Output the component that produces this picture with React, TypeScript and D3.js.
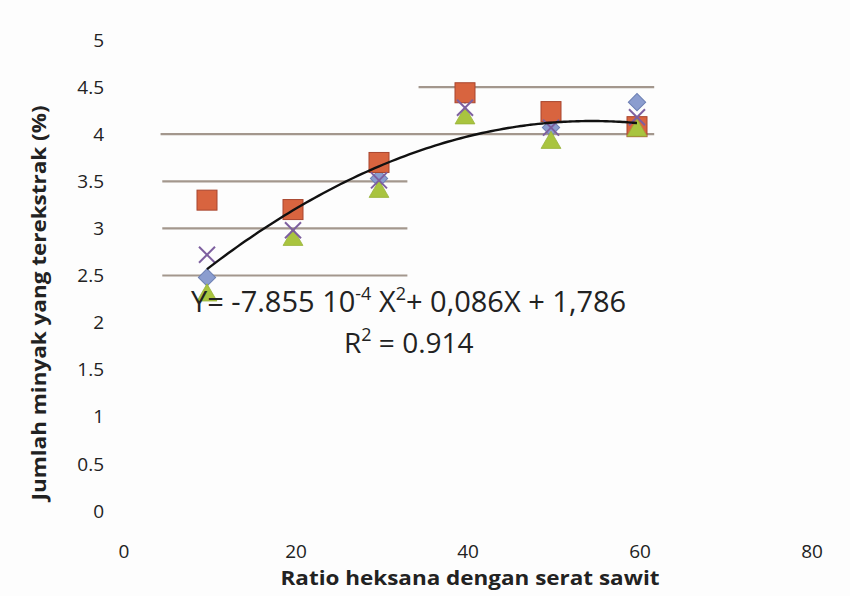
import React from "react";
import * as d3 from "d3";

const ratios = [10, 20, 30, 40, 50, 60];
const diamondVals = [2.48, 3.2, 3.53, 4.42, 4.07, 4.34];
const squareVals = [3.3, 3.2, 3.7, 4.44, 4.24, 4.08];
const triangleVals = [2.29, 2.88, 3.39, 4.17, 3.91, 4.04];
const crossVals = [2.72, 2.98, 3.51, 4.28, 4.07, 4.18];
const yTicks = [0, 0.5, 1, 1.5, 2, 2.5, 3, 3.5, 4, 4.5, 5];
const yTickLabels = ["0", "0.5", "1", "1.5", "2", "2.5", "3", "3.5", "4", "4.5", "5"];
const xTicks = [0, 20, 40, 60, 80];
const trendCoef = [-7.855e-4, 0.086, 1.786];
// partial gridlines visible in the scan: [value, xStart, xEnd] in data units
const gridSegments: [number, number, number][] = [
  [4.5, 34.6, 62],
  [4, 4.6, 62],
  [3.5, 4.8, 33.3],
  [3, 4.8, 33.3],
  [2.5, 4.8, 33.3],
];

const W = 850;
const H = 596;
const FONT = "'Open Sans', 'Noto Sans', sans-serif";

export default function App() {
  const x = d3.scaleLinear().domain([0, 80]).range([121, 809]);
  const y = d3.scaleLinear().domain([0, 5]).range([511, 40]);

  const curvePts: [number, number][] = [];
  for (let i = 0; i <= 100; i++) {
    const xv = 10 + (50 * i) / 100;
    const yv = trendCoef[0] * xv * xv + trendCoef[1] * xv + trendCoef[2];
    curvePts.push([x(xv), y(yv)]);
  }
  const line = d3.line<[number, number]>().curve(d3.curveBasis);

  const diamond = d3.symbol().type(d3.symbolSquare).size(150)();
  const tri = d3.symbol().type(d3.symbolTriangle).size(170)();

  return (
    <svg
      width={W}
      height={H}
      style={{ position: "absolute", left: 0, top: 0, background: "#fff" }}
      fontFamily={FONT}
    >
      <rect width={W} height={H} fill="#fdfdfd" />
      {gridSegments.map(([v, a, b], i) => (
        <line
          key={i}
          x1={x(a)}
          x2={x(b)}
          y1={y(v)}
          y2={y(v)}
          stroke="#a3978d"
          strokeWidth={2.2}
        />
      ))}
      {yTicks.map((t, i) => (
        <text
          key={t}
          x={104}
          y={y(t)}
          dy="0.35em"
          textAnchor="end"
          fontSize={19}
          fill="#222"
        >
          {yTickLabels[i]}
        </text>
      ))}
      {xTicks.map((t) => (
        <text key={t} x={x(t) + 3} y={558} textAnchor="middle" fontSize={19} fill="#222">
          {t}
        </text>
      ))}
      <text
        x={470}
        y={585}
        textAnchor="middle"
        fontSize={20}
        fontWeight="bold"
        fill="#222"
        textLength={379}
        lengthAdjust="spacingAndGlyphs"
      >
        Ratio heksana dengan serat sawit
      </text>
      <text
        transform={`translate(46,303) rotate(-90)`}
        textAnchor="middle"
        fontSize={19}
        fontWeight="bold"
        fill="#222"
        textLength={395}
        lengthAdjust="spacingAndGlyphs"
      >
        Jumlah minyak yang terekstrak (%)
      </text>

      {/* diamonds */}
      {ratios.map((r, i) => (
        <path
          key={"d" + i}
          d={diamond}
          transform={`translate(${x(r)},${y(diamondVals[i])}) rotate(45)`}
          fill="#8b9dcf"
          stroke="#6d80b4"
          strokeWidth={1}
        />
      ))}
      {/* squares */}
      {ratios.map((r, i) => (
        <rect
          key={"s" + i}
          x={x(r) - 10}
          y={y(squareVals[i]) - 10}
          width={20}
          height={20}
          fill="#d8643f"
          stroke="#a8452e"
          strokeWidth={1}
        />
      ))}
      {/* triangles */}
      {ratios.map((r, i) => (
        <path
          key={"t" + i}
          d={tri}
          transform={`translate(${x(r)},${y(triangleVals[i])})`}
          fill="#a9c43f"
          stroke="#98b23a"
          strokeWidth={0.8}
        />
      ))}
      {/* crosses */}
      {ratios.map((r, i) => {
        const cx = x(r);
        const cy = y(crossVals[i]);
        const s = 8;
        return (
          <g key={"x" + i} stroke="#7d5f9f" strokeWidth={2}>
            <line x1={cx - s} y1={cy - s} x2={cx + s} y2={cy + s} />
            <line x1={cx - s} y1={cy + s} x2={cx + s} y2={cy - s} />
          </g>
        );
      })}

      <path d={line(curvePts) || ""} fill="none" stroke="#111" strokeWidth={2.4} />

      <text x={191} y={312} fontSize={29} fill="#222">
        Y= -7.855 10
        <tspan fontSize={18} dy={-12}>-4</tspan>
        <tspan dy={12}> X</tspan>
        <tspan fontSize={18} dy={-12}>2</tspan>
        <tspan dy={12}>+ 0,086X + 1,786</tspan>
      </text>
      <text x={344} y={353} fontSize={28} fill="#222">
        R<tspan fontSize={18} dy={-12}>2</tspan>
        <tspan dy={12}> = 0.914</tspan>
      </text>
    </svg>
  );
}
